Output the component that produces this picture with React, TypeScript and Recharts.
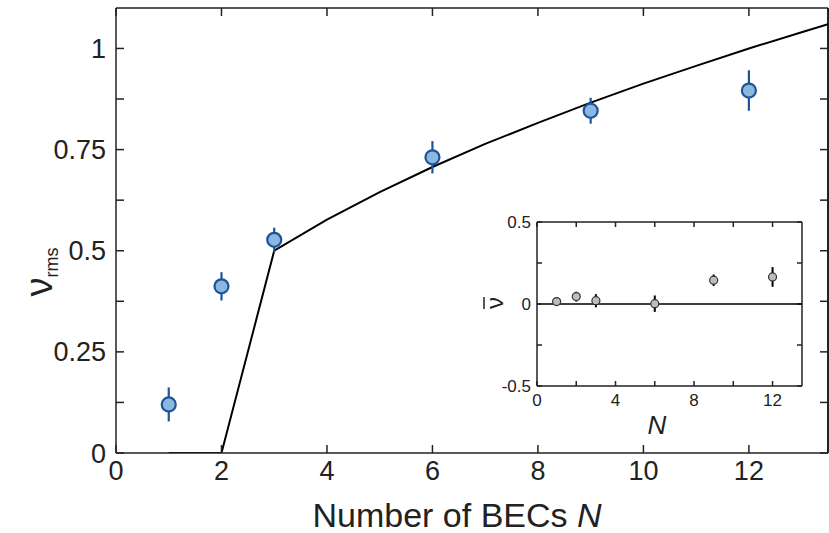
import React from 'react';
import {
  ComposedChart,
  Line,
  Scatter,
  ErrorBar,
  XAxis,
  YAxis,
  ReferenceLine,
} from 'recharts';

// main panel: measured rms values
const becCounts = [1, 2, 3, 6, 9, 12];
const rmsValues = [0.12, 0.412, 0.527, 0.731, 0.846, 0.896];
const rmsErrors = [0.042, 0.035, 0.03, 0.04, 0.032, 0.05];

// theory curve
const curveN = [1, 2, 3, 4, 5, 6, 7, 8, 9, 10, 11, 12, 13, 13.5];
const curveV = [0, 0, 0.5, 0.577, 0.645, 0.707, 0.764, 0.816, 0.866, 0.913, 0.957, 1.0, 1.04, 1.06];

// inset: mean values
const meanValues = [0.015, 0.045, 0.02, 0.002, 0.145, 0.165];
const meanErrors = [0.01, 0.03, 0.04, 0.05, 0.035, 0.06];

const mainXTicks = [0, 2, 4, 6, 8, 10, 12];
const mainYTicks = [0, 0.125, 0.25, 0.375, 0.5, 0.625, 0.75, 0.875, 1];
const insetXTicks = [0, 2, 4, 6, 8, 10, 12];
const insetYTicks = [-0.5, -0.25, 0, 0.25, 0.5];

const MAIN_X_MAX = 13.5;
const MAIN_Y_MAX = 1.1;
const INSET_X_MAX = 13.5;
const INSET_Y_MAX = 0.5;

const FONT = "'Liberation Sans', Arial, Helvetica, sans-serif";

const mainPoints = becCounts.map((n, i) => ({ x: n, y: rmsValues[i], err: rmsErrors[i] }));
const curve = curveN.map((n, i) => ({ x: n, y: curveV[i] }));
const insetPoints = becCounts.map((n, i) => ({ x: n, y: meanValues[i], err: meanErrors[i] }));

const fmtMainY = (v: number) => (Math.abs((v * 4) % 1) < 1e-6 ? String(v) : '');
const fmtInsetY = (v: number) => (Math.abs((v * 2) % 1) < 1e-6 ? String(v) : '');
const fmtInsetX = (v: number) => (v % 4 === 0 ? String(v) : '');

const mainTick = { fontSize: 27, fill: '#222', fontFamily: FONT };
const insetTick = { fontSize: 17, fill: '#222', fontFamily: FONT };

// short inward tick at the top end of a vertical reference line
const topTick = (len: number) => (p: any) => {
  const top = Math.min(p.y1, p.y2);
  return <line x1={p.x1} x2={p.x1} y1={top} y2={top + len} stroke="#222" strokeWidth={1.5} />;
};
// short inward tick at the right end of a horizontal reference line
const rightTick = (len: number) => (p: any) => {
  const right = Math.max(p.x1, p.x2);
  return <line x1={right} x2={right - len} y1={p.y1} y2={p.y1} stroke="#222" strokeWidth={1.5} />;
};

export default function App() {
  return (
    <div style={{ position: 'absolute', left: 0, top: 0, width: 829, height: 533, background: '#fff' }}>
      <ComposedChart width={829} height={533} margin={{ top: 8, right: 1, bottom: 0, left: 0 }}>
        <XAxis
          xAxisId="b"
          type="number"
          dataKey="x"
          domain={[0, MAIN_X_MAX]}
          ticks={mainXTicks}
          height={80}
          tickSize={-8}
          tickMargin={16}
          tick={mainTick}
          stroke="#222"
          strokeWidth={1.5}
          allowDataOverflow
        />
        <YAxis
          yAxisId="l"
          type="number"
          dataKey="y"
          domain={[0, MAIN_Y_MAX]}
          ticks={mainYTicks}
          width={116}
          tickSize={-8}
          tickMargin={18}
          tickFormatter={fmtMainY}
          tick={mainTick}
          stroke="#222"
          strokeWidth={1.5}
          allowDataOverflow
        />
        {/* frame: top and right edges with inward ticks */}
        <ReferenceLine xAxisId="b" yAxisId="l" y={MAIN_Y_MAX} stroke="#222" strokeWidth={1.5} />
        <ReferenceLine xAxisId="b" yAxisId="l" x={MAIN_X_MAX} stroke="#222" strokeWidth={2} />
        {mainXTicks.map((t) => (
          <ReferenceLine key={`mt${t}`} xAxisId="b" yAxisId="l" x={t} shape={topTick(8)} />
        ))}
        {mainYTicks.map((t) => (
          <ReferenceLine key={`mr${t}`} xAxisId="b" yAxisId="l" y={t} shape={rightTick(8)} />
        ))}
        <Line
          xAxisId="b"
          yAxisId="l"
          data={curve}
          dataKey="y"
          type="linear"
          stroke="#000"
          strokeWidth={2}
          dot={false}
          isAnimationActive={false}
        />
        <Scatter
          xAxisId="b"
          yAxisId="l"
          data={mainPoints}
          dataKey="y"
          isAnimationActive={false}
          shape={(p: any) => (
            <circle cx={p.cx} cy={p.cy} r={7} fill="#8cb7e0" stroke="#1d5597" strokeWidth={2.2} />
          )}
        >
          <ErrorBar dataKey="err" direction="y" width={0} stroke="#1d5597" strokeWidth={2.2} isAnimationActive={false} />
        </Scatter>
        <text transform="rotate(-90, 52, 272)" x={52} y={272} textAnchor="middle" fontFamily={FONT} fill="#222">
          <tspan fontSize={38}>ν</tspan>
          <tspan fontSize={18} dy={6}>rms</tspan>
        </text>
        <text x={457} y={527} textAnchor="middle" fontFamily={FONT} fontSize={34} fill="#222">
          Number of BECs <tspan fontStyle="italic">N</tspan>
        </text>
      </ComposedChart>

      <div style={{ position: 'absolute', left: 470, top: 210 }}>
        <ComposedChart width={340} height={230} margin={{ top: 12, right: 8, bottom: 0, left: 0 }}>
          <XAxis
            xAxisId="b"
            type="number"
            dataKey="x"
            domain={[0, INSET_X_MAX]}
            ticks={insetXTicks}
            height={54}
            tickSize={-5}
            tickMargin={13}
            tickFormatter={fmtInsetX}
            tick={insetTick}
            stroke="#222"
            strokeWidth={1.5}
            allowDataOverflow
          />
          <YAxis
            yAxisId="l"
            type="number"
            dataKey="y"
            domain={[-0.5, INSET_Y_MAX]}
            ticks={insetYTicks}
            width={67}
            tickSize={-5}
            tickMargin={11}
            tickFormatter={fmtInsetY}
            tick={insetTick}
            stroke="#222"
            strokeWidth={1.5}
            allowDataOverflow
          />
          <ReferenceLine xAxisId="b" yAxisId="l" y={INSET_Y_MAX} stroke="#222" strokeWidth={1.5} />
          <ReferenceLine xAxisId="b" yAxisId="l" x={INSET_X_MAX} stroke="#222" strokeWidth={1.5} />
          {insetXTicks.map((t) => (
            <ReferenceLine key={`it${t}`} xAxisId="b" yAxisId="l" x={t} shape={topTick(5)} />
          ))}
          {insetYTicks.map((t) => (
            <ReferenceLine key={`ir${t}`} xAxisId="b" yAxisId="l" y={t} shape={rightTick(5)} />
          ))}
          <ReferenceLine xAxisId="b" yAxisId="l" y={0} stroke="#000" strokeWidth={1.5} />
          <Scatter
            xAxisId="b"
            yAxisId="l"
            data={insetPoints}
            dataKey="y"
            isAnimationActive={false}
            shape={(p: any) => (
              <circle cx={p.cx} cy={p.cy} r={4} fill="#bdbdbd" stroke="#333" strokeWidth={1.2} />
            )}
          >
            <ErrorBar dataKey="err" direction="y" width={0} stroke="#000" strokeWidth={2} isAnimationActive={false} />
          </Scatter>
          <g transform="rotate(-90, 26, 93)">
            <text x={26} y={100} textAnchor="middle" fontFamily={FONT} fontSize={24} fill="#222">
              ν
            </text>
            <line x1={20} x2={32} y1={81} y2={81} stroke="#222" strokeWidth={1.5} />
          </g>
          <text x={187} y={224} textAnchor="middle" fontFamily={FONT} fontSize={26} fontStyle="italic" fill="#222">
            N
          </text>
        </ComposedChart>
      </div>
    </div>
  );
}
